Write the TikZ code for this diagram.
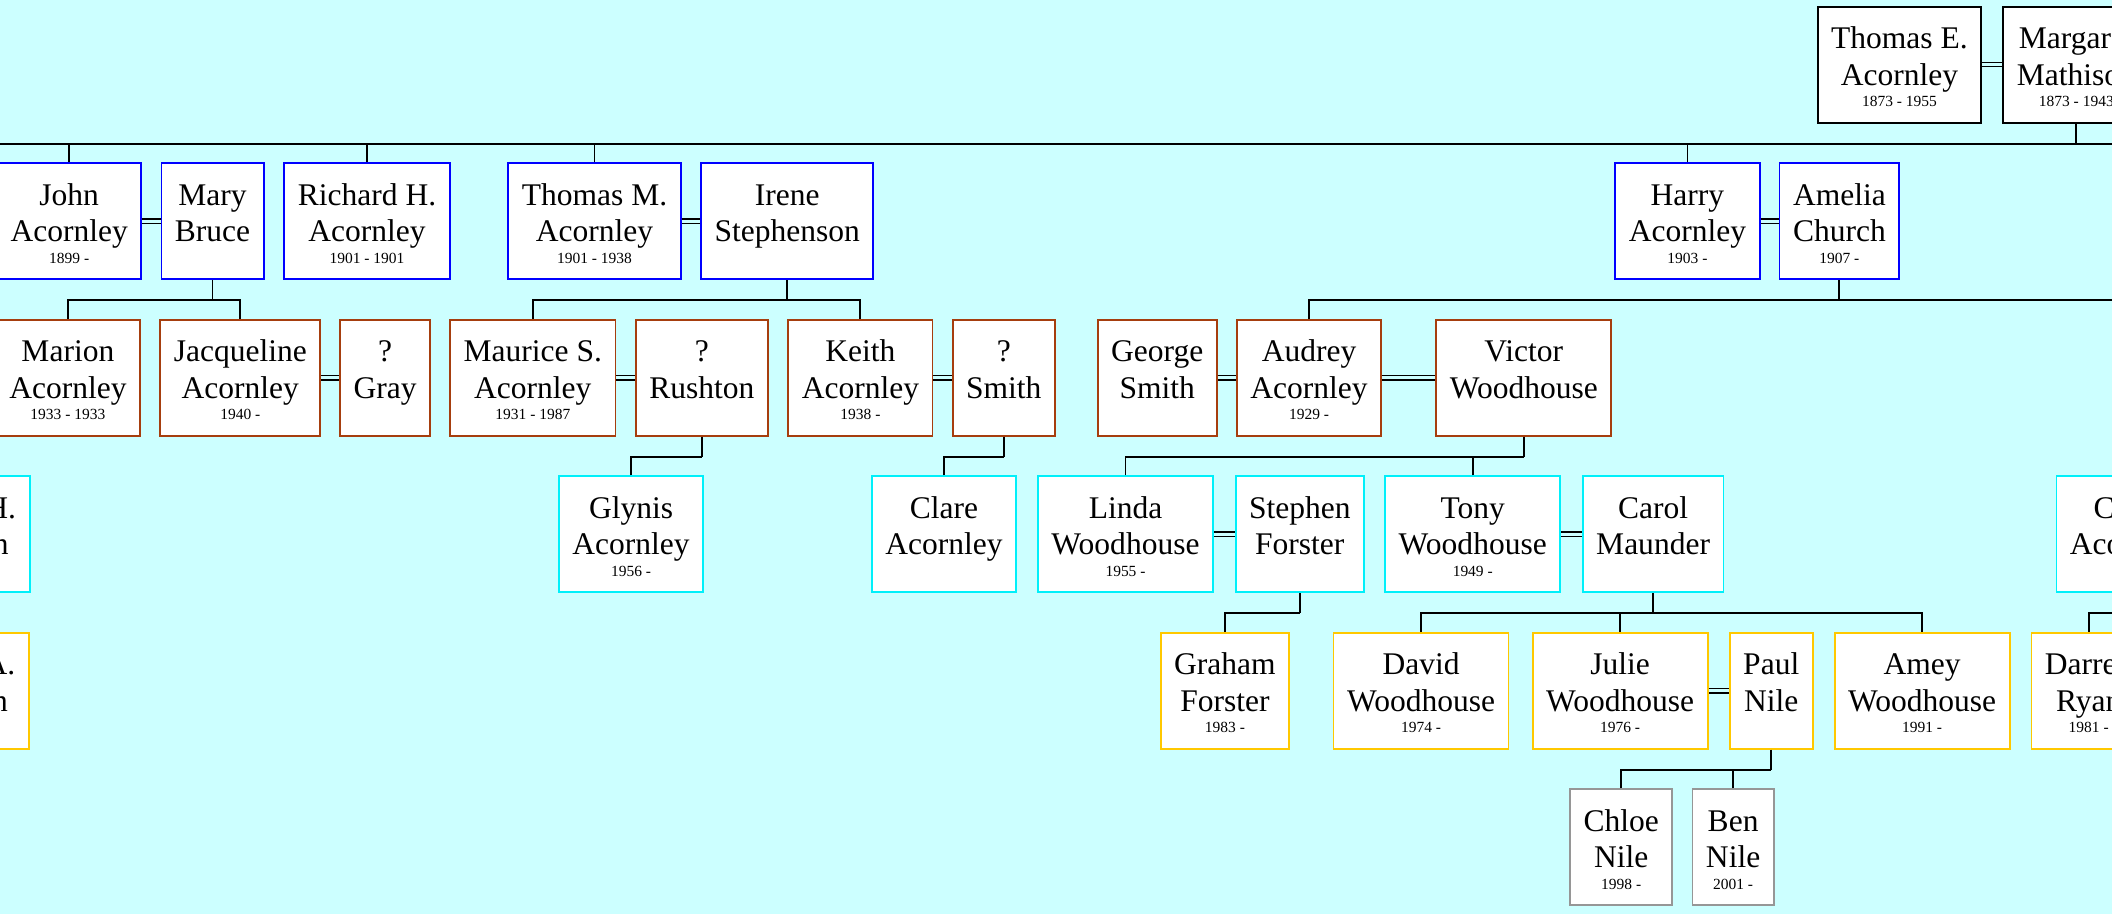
\documentclass[tikz,border=0pt]{standalone}
\usepackage{fontspec}
\setmainfont{Liberation Serif}
\usepackage{tikz}
\definecolor{backdrop}{RGB}{204,255,255}
\definecolor{rustLine}{RGB}{166,62,14}
\definecolor{cyanLine}{RGB}{0,240,250}
\definecolor{goldLine}{RGB}{255,200,0}
\definecolor{greyLine}{RGB}{150,150,150}
\newcommand{\nameFont}[0]{\fontsize{23.4}{27}\selectfont}
\newcommand{\yearFont}[0]{\fontsize{11.5}{13}\selectfont}
\newcommand{\person}[3]{#1\\#2\\[-11pt]{\yearFont #3}}

\begin{document}
\begin{tikzpicture}[x=1pt, y=-1pt]
  \tikzset{person/.style={draw, fill=white, line width=1.4pt, minimum height=86pt,
      inner xsep=10pt, inner ysep=0pt, text height=64pt, text depth=1.5pt,
      align=center, font=\nameFont},
    gen0/.style={person, draw=black},
    gen1/.style={person, draw=blue},
    gen2/.style={person, draw=rustLine},
    gen3/.style={person, draw=cyanLine},
    gen4/.style={person, draw=goldLine},
    gen5/.style={person, draw=greyLine},
    kin/.style={line width=1.4pt},
    wed/.style={double=backdrop, double distance=2.2pt, line width=1pt}}
  \path[use as bounding box] (0,0) rectangle (1568,678.6);
  \fill[backdrop] (0,0) rectangle (1568,678.6);
  \clip (0,0) rectangle (1568,678.6);
  \coordinate (edge-l) at (-10,0);
  \coordinate (edge-r) at (1580,0);

  \node[gen0] (G-0-1) at (1410.2,48) {\person{Thomas E.}{Acornley}{1873 - 1955}};
  \node[gen0] (G-0-2) at (1541.5,48) {\person{Margaret}{Mathison}{1873 - 1943}};

  \node[gen1] (G-1-1) at (51.4,164.2) {\person{John}{Acornley}{1899 -}};
  \node[gen1] (G-1-2) at (157.8,164.2) {\person{Mary}{Bruce}{}};
  \node[gen1] (G-1-3) at (272.5,164.2) {\person{Richard H.}{Acornley}{1901 - 1901}};
  \node[gen1] (G-1-4) at (441.4,164.2) {\person{Thomas M.}{Acornley}{1901 - 1938}};
  \node[gen1] (G-1-5) at (584.5,164.2) {\person{Irene}{Stephenson}{}};
  \node[gen1] (G-1-6) at (1252.8,164.2) {\person{Harry}{Acornley}{1903 -}};
  \node[gen1] (G-1-7) at (1365.6,164.2) {\person{Amelia}{Church}{1907 -}};

  \node[gen2] (G-2-1) at (50.4,280.4) {\person{Marion}{Acornley}{1933 - 1933}};
  \node[gen2] (G-2-2) at (178.4,280.4) {\person{Jacqueline}{Acornley}{1940 -}};
  \node[gen2] (G-2-3) at (286,280.4) {\person{?}{Gray}{}};
  \node[gen2] (G-2-4) at (395.6,280.4) {\person{Maurice S.}{Acornley}{1931 - 1987}};
  \node[gen2] (G-2-5) at (521.1,280.4) {\person{?}{Rushton}{}};
  \node[gen2] (G-2-6) at (638.8,280.4) {\person{Keith}{Acornley}{1938 -}};
  \node[gen2] (G-2-7) at (745.2,280.4) {\person{?}{Smith}{}};
  \node[gen2] (G-2-8) at (859.1,280.4) {\person{George}{Smith}{}};
  \node[gen2] (G-2-9) at (971.9,280.4) {\person{Audrey}{Acornley}{1929 -}};
  \node[gen2] (G-2-10) at (1131.3,280.4) {\person{Victor}{Woodhouse}{}};

  \node[gen3] (G-3-1) at (0.6,396.6) {\person{H.}{n}{}};
  \node[gen3] (G-3-2) at (468.5,396.6) {\person{Glynis}{Acornley}{1956 -}};
  \node[gen3] (G-3-3) at (700.8,396.6) {\person{Clare}{Acornley}{}};
  \node[gen3] (G-3-4) at (835.6,396.6) {\person{Linda}{Woodhouse}{1955 -}};
  \node[gen3] (G-3-5) at (965,396.6) {\person{Stephen}{Forster}{}};
  \node[gen3] (G-3-6) at (1093.4,396.6) {\person{Tony}{Woodhouse}{1949 -}};
  \node[gen3] (G-3-7) at (1227.3,396.6) {\person{Carol}{Maunder}{}};
  \node[gen3] (G-3-8) at (1580.3,396.6) {\person{Colin}{Acornley}{}};

  \node[gen4] (G-4-1) at (0,512.8) {\person{A.}{n}{}};
  \node[gen4] (G-4-2) at (909.4,512.8) {\person{Graham}{Forster}{1983 -}};
  \node[gen4] (G-4-3) at (1055,512.8) {\person{David}{Woodhouse}{1974 -}};
  \node[gen4] (G-4-4) at (1202.8,512.8) {\person{Julie}{Woodhouse}{1976 -}};
  \node[gen4] (G-4-5) at (1315,512.8) {\person{Paul}{Nile}{}};
  \node[gen4] (G-4-6) at (1427,512.8) {\person{Amey}{Woodhouse}{1991 -}};
  \node[gen4] (G-4-7) at (1550.7,512.8) {\person{Darren}{Ryan}{1981 -}};

  \node[gen5] (G-5-1) at (1203.6,629) {\person{Chloe}{Nile}{1998 -}};
  \node[gen5] (G-5-2) at (1286.7,629) {\person{Ben}{Nile}{2001 -}};

  \draw[wed] (G-0-1) -- (G-0-2);
  \draw[wed] (G-1-1) -- (G-1-2);
  \draw[wed] (G-1-4) -- (G-1-5);
  \draw[wed] (G-1-6) -- (G-1-7);
  \draw[wed] (G-2-2) -- (G-2-3);
  \draw[wed] (G-2-4) -- (G-2-5);
  \draw[wed] (G-2-6) -- (G-2-7);
  \draw[wed] (G-2-8) -- (G-2-9);
  \draw[wed] (G-2-9) -- (G-2-10);
  \draw[wed] (G-3-4) -- (G-3-5);
  \draw[wed] (G-3-6) -- (G-3-7);
  \draw[wed] (G-4-4) -- (G-4-5);

  \draw[kin] (G-0-2.south) -- ++(0,15) coordinate (b-0-2);
  \draw[kin, line width=1.5pt] (b-0-2 -| edge-l) -- (b-0-2 -| edge-r);
  \draw[kin] (G-1-1.north) -- (G-1-1.north |- b-0-2);
  \draw[kin] (G-1-3.north) -- (G-1-3.north |- b-0-2);
  \draw[kin] (G-1-4.north) -- (G-1-4.north |- b-0-2);
  \draw[kin] (G-1-6.north) -- (G-1-6.north |- b-0-2);

  \draw[kin] (G-1-2.south) -- ++(0,15) coordinate (b-1-2);
  \draw[kin] (G-2-1.north) |- (b-1-2) -| (G-2-2.north);
  \draw[kin] (G-1-5.south) -- ++(0,15) coordinate (b-1-5);
  \draw[kin] (G-2-4.north) |- (b-1-5) -| (G-2-6.north);
  \draw[kin] (G-1-7.south) -- ++(0,15) coordinate (b-1-7);
  \draw[kin] (G-2-9.north) |- (b-1-7) -- (b-1-7 -| edge-r);

  \draw[kin] (G-2-5.south) -- ++(0,15) coordinate (b-2-5);
  \draw[kin] (G-3-2.north) |- (b-2-5);
  \draw[kin] (G-2-7.south) -- ++(0,15) coordinate (b-2-7);
  \draw[kin] (G-3-3.north) |- (b-2-7);
  \draw[kin] (G-2-10.south) -- ++(0,15) coordinate (b-2-10);
  \draw[kin] (G-3-4.north) |- (b-2-10);
  \draw[kin] (G-3-6.north) -- (G-3-6.north |- b-2-10);

  \draw[kin] (G-3-5.south) -- ++(0,15) coordinate (b-3-5);
  \draw[kin] (G-4-2.north) |- (b-3-5);
  \draw[kin] (G-3-7.south) -- ++(0,15) coordinate (b-3-7);
  \draw[kin] (G-4-3.north) |- (b-3-7) -| (G-4-6.north);
  \draw[kin] (G-4-4.north) -- (G-4-4.north |- b-3-7);
  \draw[kin] (G-4-7.north) |- (b-3-7 -| edge-r);

  \draw[kin] (G-4-5.south) -- ++(0,15) coordinate (b-4-5);
  \draw[kin] (G-5-1.north) |- (b-4-5);
  \draw[kin] (G-5-2.north) -- (G-5-2.north |- b-4-5);
\end{tikzpicture}
\end{document}
